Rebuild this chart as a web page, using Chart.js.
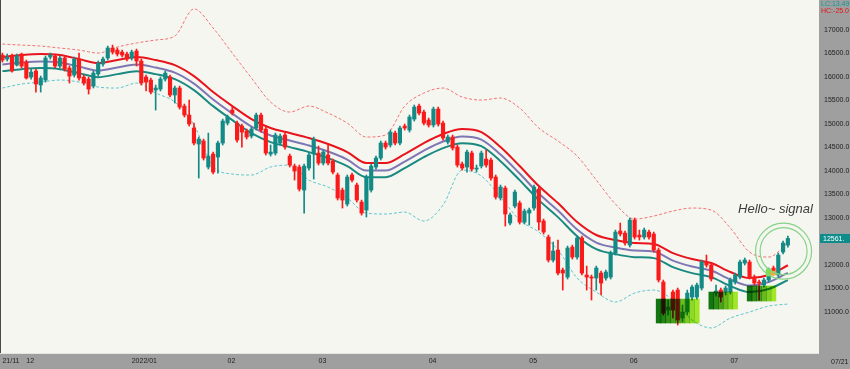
<!DOCTYPE html>
<html>
<head>
<meta charset="utf-8">
<title>Daily candles with MA channel</title>
<script src="https://cdn.jsdelivr.net/npm/chart.js@4.4.1/dist/chart.umd.min.js"></script>
<style>
  html, body { margin: 0; padding: 0; background: #9f9f9f; }
  #wrap { width: 850px; height: 369px; position: relative; }
</style>
</head>
<body>
<div id="wrap"><canvas id="chart"></canvas></div>
<script>
// daily sessions 2021/11 .. 2022/07/21
const opens = [16467,16382,16446,16254,16489,16318,15999,16127,15829,15935,16425,16446,16233,16404,16191,16041,16382,15999,15956,15807,
  16063,16276,16404,16617,16574,16531,16489,16404,16553,16340,15999,15935,15722,15743,15956,15999,15616,15765,15381,15190,
  14913,14572,14636,14082,14359,14295,14593,15019,15296,15019,14955,14849,14742,14913,15190,14891,14359,14380,14593,14764,
  14316,14103,14082,13592,14061,14359,14380,14167,14338,14210,13912,13592,13294,13912,13699,13336,13166,13592,14082,14274,
  14593,14551,14806,14593,14955,14870,15104,15381,15253,15083,14977,15317,15019,14614,14721,14508,14146,14082,14380,14039,
  14103,14252,14231,13869,13422,13635,12889,13251,13315,12910,13102,13209,13613,12932,12591,12101,12314,11888,11739,12378,
  12165,12570,11782,11739,11718,11824,11718,11739,12250,12719,12676,12420,12953,12634,12591,12697,12655,12314,11633,11036,
  11420,11462,10866,10994,11313,11313,11505,12059,11995,11398,11462,11420,11420,11633,11739,12037,12059,11739,11633,11569,
  11675,11931,11782,12271,12420];
const highs = [16510,16489,16489,16489,16510,16361,16169,16169,16020,16446,16510,16467,16446,16446,16233,16425,16510,16041,15999,16127,
  16340,16425,16659,16680,16617,16574,16531,16574,16595,16382,16041,15978,15829,15999,16127,16041,15807,15807,15424,15509,
  15019,14721,14678,14806,14401,14636,15104,15190,15360,15062,14998,14891,14934,15232,15232,14934,14551,14806,14785,14806,
  14359,14146,14125,14146,14380,14721,14529,14444,14551,14252,13954,13635,13912,13954,13741,13379,13912,14146,14316,14636,
  14636,14870,14849,14955,14998,15190,15403,15424,15296,15126,15360,15360,15062,14764,14764,14551,14189,14444,14423,14125,
  14423,14444,14274,13912,13699,13677,13102,13592,13358,13187,13209,13699,13656,12974,12634,12484,12527,11931,12399,12420,
  12612,12612,11973,11782,11973,11867,11888,12293,12740,12889,12719,12996,12996,12740,12783,12740,12697,12357,11675,11249,
  11462,11505,11143,11462,11569,11611,12101,12208,12037,11569,11505,11548,11718,11824,12101,12144,12101,11782,11675,11718,
  11931,11973,12250,12506,12612];
const lows = [16318,16340,16105,16233,16191,15956,15956,15679,15679,15892,16382,16191,16191,16127,15871,15999,15935,15829,15637,15765,
  16020,16233,16361,16489,16446,16425,16340,16361,16233,15829,15701,15637,15296,15701,15914,15573,15445,15317,15147,14955,
  14551,13848,14231,14039,13933,13954,14551,14977,15190,14614,14508,14678,14700,14870,14827,14338,14316,14338,14551,14465,
  14082,13805,13571,13102,14018,13826,14125,14125,14125,13933,13379,13209,13251,13763,13336,13059,13017,13549,14039,14231,
  14465,14508,14551,14551,14870,14827,15062,15190,14977,14934,14934,14955,14657,14572,14444,14082,14018,13975,13997,13975,
  14061,14082,13805,13400,13379,12825,12847,13209,12868,12868,12847,13166,12740,12655,12059,12059,11782,11462,11697,12122,
  12122,11782,11462,11249,11462,11356,11675,11697,12208,12612,12420,12378,12548,12527,12548,12548,12271,11633,10930,10930,
  10866,10717,10781,10930,11249,11270,11462,11952,11654,11334,11207,11356,11377,11590,11697,11995,11697,11569,11249,11526,
  11633,11782,11739,12229,12378];
const closes = [16361,16425,16127,16446,16233,15978,16105,15850,15978,16404,16467,16233,16404,16169,16020,16382,15978,15871,15743,16084,
  16297,16382,16617,16531,16489,16467,16382,16531,16340,15871,15892,15679,15765,15956,16084,15616,15765,15360,15190,14998,
  14593,14678,14274,14316,13975,14593,15062,15147,15232,14657,14827,14721,14891,15190,14870,14380,14401,14764,14742,14508,
  14125,13997,13613,14103,14338,14678,14167,14401,14167,13975,13422,13379,13869,13805,13379,13102,13869,14103,14274,14593,
  14508,14827,14593,14913,14913,15147,15360,15232,15019,14977,15317,14998,14700,14721,14487,14125,14061,14401,14039,14061,
  14380,14125,13848,13443,13656,13081,13059,13549,12910,13145,13166,13656,12910,12697,12101,12293,11824,11824,12357,12165,
  12570,11824,11739,11718,11931,11611,11846,12250,12697,12655,12463,12953,12591,12591,12740,12591,12314,11675,10972,11100,
  11036,10823,10994,11398,11526,11569,12059,11995,11697,11441,11313,11505,11675,11782,12059,12101,11739,11611,11611,11675,
  11888,11824,12208,12463,12561];

// channel lines and envelope, read every 4th session
const lineIdx = [0,4,8,12,16,20,24,28,32,36,40,44,48,52,56,60,64,68,72,76,80,84,88,92,96,100,104,108,112,116,120,124,128,132,136,140,144,148,152,156,160,164];
const maHigh = [16425,16467,16489,16467,16382,16297,16361,16425,16361,16254,16020,15679,15381,15104,14913,14806,14700,14572,14401,14167,14167,
  14359,14593,14785,14891,14827,14508,14103,13677,13315,12910,12634,12527,12463,12442,12250,12122,12037,11846,11718,11782,11990];
const maMid = [16265,16307,16329,16307,16222,16137,16201,16265,16201,16094,15860,15519,15221,14944,14753,14646,14540,14412,14241,14007,14007,
  14199,14433,14625,14731,14667,14348,13943,13517,13155,12750,12474,12367,12303,12282,12090,11962,11877,11686,11558,11633,11830];
const maLow = [16125,16167,16189,16167,16082,15997,16061,16125,16061,15954,15720,15379,15081,14804,14613,14506,14400,14272,14101,13867,13867,
  14059,14293,14485,14591,14527,14208,13803,13377,13015,12610,12334,12227,12163,12142,11950,11822,11737,11546,11418,11484,11675];
const bandUpper = [16702,16680,16659,16617,16574,16510,16638,16723,16787,16872,17450,17043,16510,15978,15466,15253,15381,15232,15019,14721,14764,
  15381,15658,15765,15573,15509,15552,15339,14913,14636,14316,13805,13294,12974,13038,13145,13209,13166,12783,12271,12165,12463];
const bandLower = [15765,15850,15892,15935,15892,15786,15765,15871,15658,15466,14977,14103,13933,13912,14082,14125,13805,13656,13422,13102,13081,
  13123,12932,13272,14018,13890,13443,12953,12697,12314,11718,11420,11207,11398,11462,11249,10823,10655,10866,10994,11121,11164];

const yTicks = [11000,11500,12000,12500,13000,13500,14000,14500,15000,15500,16000,16500,17000];
const monthTicks = { 0: '21/11', 5: '12', 27: '2022/01', 47: '02', 66: '03', 89: '04', 110: '05', 131: '06', 152: '07' };

// signal zones: session range and price range
const zones = [
  { from: 137, to: 145, low: 10760, high: 11270 },
  { from: 148, to: 153, low: 11057, high: 11420 },
  { from: 156, to: 161, low: 11228, high: 11548 }
];
const signalMarks = { 160: [11761, 11910], 161: [11782, 11867] };
const signal = { index: 163.1, price: 12290 };
const note = { index: 153.6, price: 13170, text: 'Hello~ signal' };
const lastClose = 12561;

const N = 171; // sessions plus empty space on the right
const labels = Array.from({ length: N }, (_, i) => i);

const UP = '#138a86', DOWN = '#fa1a1a';
const candleColor = closes.map((c, i) => c >= opens[i] ? UP : DOWN);

function mix(a, b, t) {
  const pa = [1, 3, 5].map(k => parseInt(a.substr(k, 2), 16));
  const pb = [1, 3, 5].map(k => parseInt(b.substr(k, 2), 16));
  return 'rgb(' + pa.map((v, k) => Math.round(v + (pb[k] - v) * t)).join(',') + ')';
}

const zoneData = new Array(N).fill(null);
const zoneColor = new Array(N).fill('transparent');
zones.forEach(z => {
  for (let i = z.from; i <= z.to; i++) {
    zoneData[i] = [z.low, z.high];
    zoneColor[i] = mix('#127a10', '#a8ee2c', (i - z.from) / (z.to - z.from));
  }
});
const markData = new Array(N).fill(null);
const markColor = new Array(N).fill('transparent');
Object.keys(signalMarks).forEach((k, j) => {
  markData[k] = signalMarks[k];
  markColor[k] = j === 0 ? '#78e04a' : '#f2a93b';
});

const pts = arr => lineIdx.map((x, k) => ({ x: x, y: arr[k] }));
const FONT = "'Liberation Sans', Arial, sans-serif";

const decor = {
  id: 'decor',
  beforeDraw(chart) {
    const { ctx, chartArea: a, width, height } = chart;
    ctx.save();
    ctx.fillStyle = '#9f9f9f';
    ctx.fillRect(0, 0, width, height);
    ctx.fillStyle = '#f6f6f1';
    ctx.fillRect(a.left, a.top, a.right - a.left, a.bottom - a.top);
    ctx.restore();
  },
  beforeDatasetDraw(chart, args) {
    if (chart.data.datasets[args.index].label === 'zones') {
      chart.ctx.save();
      chart.ctx.globalCompositeOperation = 'multiply';
    }
  },
  afterDatasetDraw(chart, args) {
    if (chart.data.datasets[args.index].label === 'zones') chart.ctx.restore();
  },
  afterDraw(chart) {
    const { ctx, chartArea: a } = chart;
    const xs = chart.scales.x, ys = chart.scales.y;
    ctx.save();
    // frame lines
    ctx.fillStyle = '#4a4a4a';
    ctx.fillRect(0, 0, 1, a.bottom);
    ctx.fillStyle = '#e4e4e0';
    ctx.fillRect(a.left, a.bottom - 1, a.right - a.left, 1);

    // signal circles
    const cx = xs.getPixelForValue(signal.index), cy = ys.getPixelForValue(signal.price);
    ctx.strokeStyle = '#86d286';
    ctx.lineWidth = 1.2;
    [28, 23.5].forEach(r => { ctx.beginPath(); ctx.arc(cx, cy, r, 0, Math.PI * 2); ctx.stroke(); });

    // note text
    ctx.fillStyle = '#3c3c3c';
    ctx.font = "italic 13px 'Liberation Sans', Arial, sans-serif";
    ctx.textBaseline = 'middle';
    ctx.textAlign = 'left';
    ctx.fillText(note.text, xs.getPixelForValue(note.index), ys.getPixelForValue(note.price));

    // header values
    ctx.font = '7px ' + FONT;
    ctx.fillStyle = '#0a9a9a';
    ctx.fillText('LC:13.49', 821, 4.5);
    ctx.fillStyle = '#e21414';
    ctx.fillText('HC:-25.0', 821, 11);

    // last price badge
    const py = ys.getPixelForValue(lastClose);
    ctx.fillStyle = '#0e8c8c';
    ctx.fillRect(a.right + 1, py - 4.5, 31, 9);
    ctx.fillStyle = '#ffffff';
    ctx.fillText(lastClose + '.', a.right + 4, py + 0.5);

    // last date
    ctx.fillStyle = '#222222';
    ctx.fillText('07/21', 831, 362);
    ctx.restore();
  }
};

new Chart(document.getElementById('chart'), {
  type: 'bar',
  data: {
    labels: labels,
    datasets: [
      { label: 'zones', data: zoneData, backgroundColor: zoneColor, grouped: false,
        barPercentage: 1, categoryPercentage: 1, order: 0 },
      { label: 'marks', data: markData, backgroundColor: markColor, grouped: false, barThickness: 5, order: 0 },
      { label: 'body', data: opens.map((o, i) => [o, closes[i]]), backgroundColor: candleColor,
        grouped: false, barThickness: 3.5, minBarLength: 1, order: 1 },
      { label: 'wick', data: highs.map((h, i) => [lows[i], h]), backgroundColor: candleColor,
        grouped: false, barThickness: 1, order: 2 },
      { type: 'line', label: 'maHigh', data: pts(maHigh), borderColor: '#e8141c', borderWidth: 2,
        pointRadius: 0, cubicInterpolationMode: 'monotone', order: 3 },
      { type: 'line', label: 'maMid', data: pts(maMid), borderColor: '#7f77b4', borderWidth: 2,
        pointRadius: 0, cubicInterpolationMode: 'monotone', order: 3 },
      { type: 'line', label: 'maLow', data: pts(maLow), borderColor: '#1a8a80', borderWidth: 2,
        pointRadius: 0, cubicInterpolationMode: 'monotone', order: 3 },
      { type: 'line', label: 'bandUpper', data: pts(bandUpper), borderColor: '#f27474', borderWidth: 1,
        borderDash: [3, 2], pointRadius: 0, cubicInterpolationMode: 'monotone', order: 4 },
      { type: 'line', label: 'bandLower', data: pts(bandLower), borderColor: '#5cc8cc', borderWidth: 1,
        borderDash: [3, 2], pointRadius: 0, cubicInterpolationMode: 'monotone', order: 4 }
    ]
  },
  options: {
    responsive: true,
    maintainAspectRatio: false,
    devicePixelRatio: 1,
    animation: false,
    events: [],
    layout: { padding: 0 },
    scales: {
      x: {
        type: 'category',
        offset: true,
        grid: { display: false, drawTicks: false },
        border: { display: false },
        afterFit: s => { s.height = 15; s.paddingLeft = 0; s.paddingRight = 0; },
        ticks: {
          autoSkip: false, maxRotation: 0, minRotation: 0, align: 'start', padding: 3,
          color: '#222', font: { family: FONT, size: 7 },
          callback: (v, i) => monthTicks[i] || ''
        }
      },
      y: {
        type: 'linear',
        position: 'right',
        min: 10100,
        max: 17640,
        grid: { display: false, drawTicks: false },
        border: { display: false },
        afterFit: s => { s.width = 31; s.paddingTop = 0; s.paddingBottom = 0; },
        afterBuildTicks: s => { s.ticks = yTicks.map(v => ({ value: v })); },
        ticks: {
          padding: 5, color: '#222', font: { family: FONT, size: 7 },
          callback: v => v.toFixed(1)
        }
      }
    },
    plugins: {
      legend: { display: false },
      tooltip: { enabled: false }
    }
  },
  plugins: [decor]
});
</script>
</body>
</html>
